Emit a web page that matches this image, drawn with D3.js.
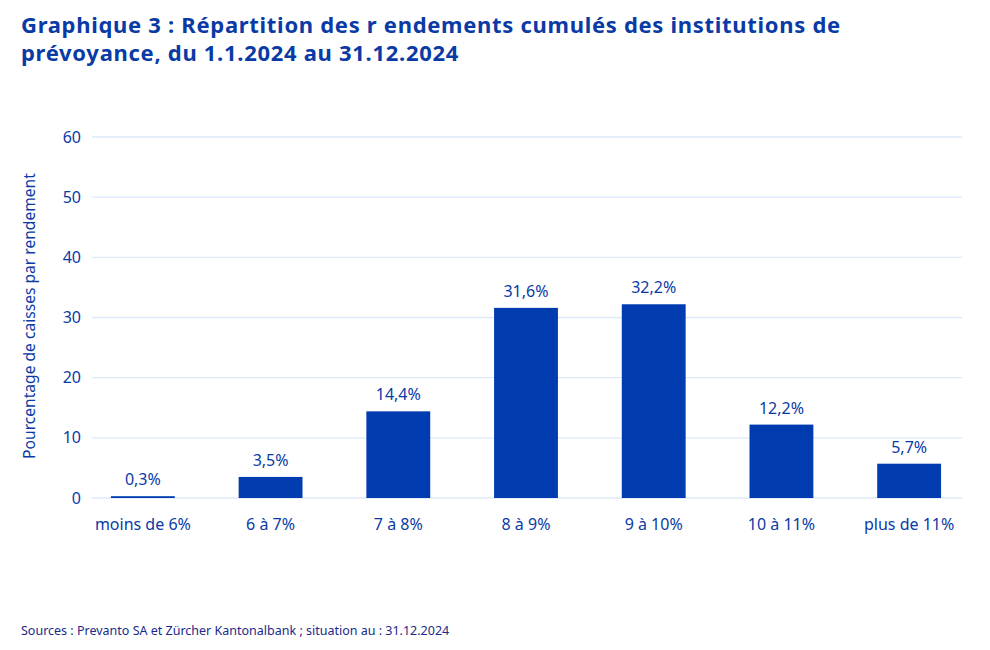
<!DOCTYPE html>
<html><head><meta charset="utf-8">
<script src="https://cdn.jsdelivr.net/npm/d3@7"></script>
<style>
body{margin:0;background:#fff;}
text{font-family:"Noto Sans","Open Sans",sans-serif;}
</style></head>
<body><svg id="c" width="990" height="650"></svg>
<script>
const categories = ["moins de 6%","6 à 7%","7 à 8%","8 à 9%","9 à 10%","10 à 11%","plus de 11%"];
const values = [0.3, 3.5, 14.4, 31.6, 32.2, 12.2, 5.7];
const valueLabels = ["0,3%","3,5%","14,4%","31,6%","32,2%","12,2%","5,7%"];
const yTicks = [0,10,20,30,40,50,60];
const title = ["Graphique 3 : Répartition des r endements cumulés des institutions de","prévoyance, du 1.1.2024 au 31.12.2024"];
const yTitle = "Pourcentage de caisses par rendement";
const source = "Sources : Prevanto SA et Zürcher Kantonalbank ; situation au : 31.12.2024";

const textCol = "#0a3aa5", barCol = "#003cb0", gridCol = "#dce9f8";
const svg = d3.select("#c");
const x = d3.scaleBand().domain(categories).range([79, 973]).paddingInner(0.5).paddingOuter(0.25);
const y = d3.scaleLinear().domain([0,60]).range([498,137]);
const gx0 = 92, gx1 = 962;

svg.selectAll(".t").data(title).enter().append("text")
  .attr("x",21).attr("y",(d,i)=>33+i*28).attr("fill",textCol)
  .attr("font-size",22).attr("letter-spacing",0.7).attr("font-weight","bold").text(d=>d);

svg.append("g").selectAll("line").data(yTicks).enter().append("line")
  .attr("x1",gx0).attr("x2",gx1).attr("y1",d=>y(d)).attr("y2",d=>y(d))
  .attr("stroke",gridCol).attr("stroke-width",1.3);

svg.append("g").selectAll("text").data(yTicks).enter().append("text")
  .attr("x",81).attr("y",d=>y(d)+5.5).attr("text-anchor","end")
  .attr("fill",textCol).attr("font-size",16).text(d=>d);

svg.append("text").attr("transform","translate(35,316) rotate(-90)")
  .attr("text-anchor","middle").attr("fill",textCol).attr("font-size",15.6).text(yTitle);

svg.append("g").selectAll("rect").data(values).enter().append("rect")
  .attr("x",(d,i)=>x(categories[i])).attr("width",x.bandwidth())
  .attr("y",d=>y(d)).attr("height",d=>y(0)-y(d)).attr("fill",barCol);

svg.append("g").selectAll("text").data(values).enter().append("text")
  .attr("x",(d,i)=>x(categories[i])+x.bandwidth()/2).attr("y",d=>y(d)-11)
  .attr("text-anchor","middle").attr("fill",textCol).attr("font-size",16)
  .text((d,i)=>valueLabels[i]);

svg.append("g").selectAll("text").data(categories).enter().append("text")
  .attr("x",d=>x(d)+x.bandwidth()/2).attr("y",530)
  .attr("text-anchor","middle").attr("fill",textCol).attr("font-size",16).text(d=>d);

svg.append("text").attr("x",21).attr("y",635).attr("fill","#1a2a8a")
  .attr("font-size",12.5).text(source);
</script></body></html>
